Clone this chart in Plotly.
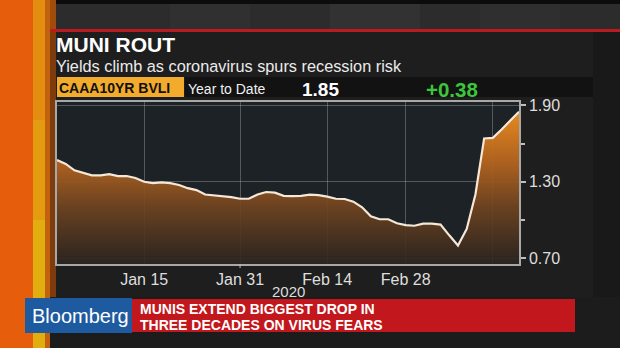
import plotly.graph_objects as go

# ---------------- data ----------------
dates = [
    "2019-12-31",
    "2020-01-02", "2020-01-03",
    "2020-01-06", "2020-01-07", "2020-01-08", "2020-01-09", "2020-01-10",
    "2020-01-13", "2020-01-14", "2020-01-15", "2020-01-16", "2020-01-17",
    "2020-01-21", "2020-01-22", "2020-01-23", "2020-01-24",
    "2020-01-27", "2020-01-28", "2020-01-29", "2020-01-30", "2020-01-31",
    "2020-02-03", "2020-02-04", "2020-02-05", "2020-02-06", "2020-02-07",
    "2020-02-10", "2020-02-11", "2020-02-12", "2020-02-13", "2020-02-14",
    "2020-02-18", "2020-02-19", "2020-02-20", "2020-02-21",
    "2020-02-24", "2020-02-25", "2020-02-26", "2020-02-27", "2020-02-28",
    "2020-03-02", "2020-03-03", "2020-03-04", "2020-03-05", "2020-03-06",
    "2020-03-09", "2020-03-10", "2020-03-11", "2020-03-12", "2020-03-13",
    "2020-03-16", "2020-03-17", "2020-03-18",
]
yields = [
    1.47,
    1.44, 1.39,
    1.37, 1.35, 1.35, 1.36, 1.345,
    1.345, 1.33, 1.30, 1.29, 1.295,
    1.29, 1.275, 1.25, 1.235,
    1.20, 1.195, 1.19, 1.18, 1.167,
    1.167, 1.20, 1.22, 1.215, 1.19,
    1.188, 1.19, 1.20, 1.195, 1.183,
    1.167, 1.165, 1.144, 1.10,
    1.03, 1.006, 1.006, 0.975, 0.96,
    0.955, 0.972, 0.972, 0.964, 0.88,
    0.80, 0.93, 1.20, 1.64, 1.645,
    1.71, 1.78, 1.85,
]
x_tick_dates = ["2020-01-15", "2020-01-31", "2020-02-14", "2020-02-28", "2020-03-13"]
x_tick_text = ["Jan 15", "Jan 31", "Feb 14", "Feb 28", ""]
y_tick_vals = [0.70, 1.30, 1.90]
y_tick_text = ["0.70", "1.30", "1.90"]
y_minor_vals = [1.00, 1.60]

title = "MUNI ROUT"
subtitle = "Yields climb as coronavirus spurs recession risk"
ticker = "CAAA10YR BVLI"
period = "Year to Date"
last_value = "1.85"
change = "+0.38"
year_label = "2020"
headline1 = "MUNIS EXTEND BIGGEST DROP IN"
headline2 = "THREE DECADES ON VIRUS FEARS"

# ---------------- layout geometry (pixels) ----------------
W, H = 620, 348
L, R, T, B = 57, 519, 102, 264
PW, PH = R - L, B - T


def px(x):
    return (x - L) / PW


def py(y):
    return (B - y) / PH


SANS = "Liberation Sans, Arial, sans-serif"

fig = go.Figure()
fig.add_trace(go.Scatter(
    x=dates, y=yields, mode="lines",
    line=dict(color="#f5e8d8", width=2.2),
    fill="tozeroy",
    fillgradient=dict(
        type="vertical",
        colorscale=[[0, "rgba(44,36,30,0.9)"], [0.35, "rgba(112,68,32,0.92)"],
                    [0.62, "rgba(180,100,30,0.94)"], [1, "rgba(250,150,32,0.96)"]],
        start=0.655, stop=1.926,
    ),
    hoverinfo="skip",
))

shapes = []


def rect(x0, y0, x1, y1, color):
    shapes.append(dict(type="rect", xref="paper", yref="paper",
                       x0=px(x0), x1=px(x1), y0=py(y1), y1=py(y0),
                       fillcolor=color, line=dict(width=0), layer="below"))


# top band
rect(0, 0, W, 29, "#2c2c2c")
rect(0, 0, W, 4, "#0c0c0c")
rect(170, 4, 250, 29, "#303030")
rect(330, 4, 420, 29, "#323232")
rect(480, 4, 560, 29, "#2f2f2f")
# red rule
rect(50, 29, W, 32, "#bb1a1e")
# right side strip
rect(593, 32, W, 348, "#191919")
# header row
rect(185, 77, 593, 97, "#121212")
rect(57, 77, 184, 97, "#f2ab2c")
# bottom region
rect(0, 297, W, 348, "#1c1c1c")
# left stripes
rect(0, 0, 33, H, "#e65e0c")
rect(33, 0, 45, 120, "#e38e10")
rect(33, 120, 45, 220, "#e39b0f")
rect(33, 220, 45, H, "#e2ad0e")
rect(45, 0, 50, H, "#c2620f")
rect(50, 32, 56, 297, "#7e3c0c")
rect(50, 0, 56, 29, "#a04d0c")
# banner
rect(25, 298, 132, 333, "#1e5aa0")
rect(132, 299, 575, 332, "#c2171c")

# Jan 31 small tick under axis
shapes.append(dict(type="line", xref="x", yref="paper",
                   x0=dates.index("2020-01-31"), x1=dates.index("2020-01-31"),
                   y0=0, y1=py(268), line=dict(color="#bdbdbd", width=1)))

fig.update_layout(shapes=shapes)

ann = []


def text(x, y, s, size, color, bold=False, xanchor="left"):
    ann.append(dict(xref="paper", yref="paper", x=px(x), y=py(y),
                    xanchor=xanchor, yanchor="middle", showarrow=False,
                    borderpad=0,
                    text=f"<b>{s}</b>" if bold else s,
                    font=dict(size=size, color=color, family=SANS)))


text(55, 44.5, title, 21, "#ffffff", bold=True)
text(55, 66.5, subtitle, 16.3, "#ebebeb")
text(58, 88, ticker, 14, "#111111", bold=True)
text(187, 89, period, 14, "#f0f0f0")
text(301, 89.5, last_value, 19, "#ffffff", bold=True)
text(425, 89.5, change, 20.5, "#3cc63c", bold=True)
text(288, 291, year_label, 15, "#dcdcdc", xanchor="center")
text(80, 315.5, "Bloomberg", 20, "#ffffff", xanchor="center")
text(139, 308.5, headline1, 14, "#ffffff", bold=True)
text(139, 324.5, headline2, 14, "#ffffff", bold=True)
fig.update_layout(annotations=ann)

grid = "rgba(190,190,190,0.35)"
fig.update_layout(
    width=W, height=H,
    margin=dict(l=L, r=W - R, t=T, b=H - B, pad=0),
    paper_bgcolor="#1e1e1e",
    plot_bgcolor="#1d2226",
    showlegend=False,
    font=dict(family=SANS, color="#dedede"),
    xaxis=dict(
        type="category", range=[0, len(dates) - 1],
        tickmode="array", tickvals=x_tick_dates, ticktext=x_tick_text,
        showgrid=True, gridcolor=grid, gridwidth=1,
        showline=True, linecolor="#a8a8a8", linewidth=1.5, mirror=True,
        ticks="", tickfont=dict(size=16, color="#dedede"),
        zeroline=False, fixedrange=True,
    ),
    yaxis=dict(
        side="right", range=[0.655, 1.926],
        tickmode="array", tickvals=y_tick_vals, ticktext=y_tick_text,
        ticks="outside", ticklen=5, tickwidth=1.5, tickcolor="#bdbdbd",
        minor=dict(tickvals=y_minor_vals, ticks="outside", ticklen=4,
                   tickwidth=1.5, tickcolor="#bdbdbd", showgrid=False),
        showgrid=True, gridcolor=grid, gridwidth=1,
        showline=True, linecolor="#a8a8a8", linewidth=1.5, mirror=True,
        tickfont=dict(size=16, color="#dedede"),
        zeroline=False, fixedrange=True,
    ),
)

fig.write_html("out.html")
